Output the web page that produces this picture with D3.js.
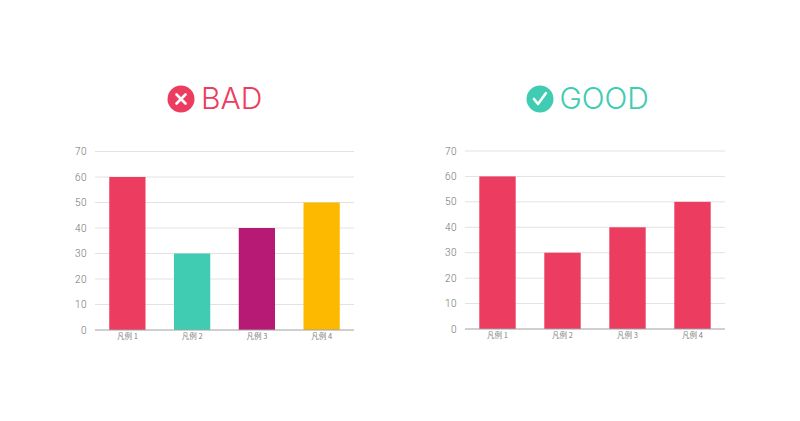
<!DOCTYPE html>
<html>
<head>
<meta charset="utf-8">
<script src="https://cdnjs.cloudflare.com/ajax/libs/d3/7.8.5/d3.min.js"></script>
<style>
    html, body { margin: 0; padding: 0; background: #fff; }
    svg { display: block; }
    text { font-family: "Roboto", sans-serif; }
</style>
</head>
<body>
<script>
"use strict";

var categories = ["凡例 1", "凡例 2", "凡例 3", "凡例 4"];
var values = [60, 30, 40, 50];
var yTicks = [0, 10, 20, 30, 40, 50, 60, 70];
var badColors = ["#ec3d60", "#40ccb2", "#b71a74", "#fdb900"];
var goodColors = ["#ec3d60", "#ec3d60", "#ec3d60", "#ec3d60"];

var red = "#ec3d60";
var teal = "#40ccb2";

var svg = d3.select("body").append("svg")
    .attr("width", 800)
    .attr("height", 421);

var drawChart = function (left, right, top, bottom, colors) {
    var x = d3.scaleBand().domain(categories).range([left, right]).paddingInner(0.44).paddingOuter(0.22);
    var y = d3.scaleLinear().domain([0, 70]).range([bottom, top]);
    var g = svg.append("g");

    g.selectAll(".grid").data(yTicks.slice(1)).enter().append("line")
        .attr("class", "grid")
        .attr("x1", left)
        .attr("x2", right)
        .attr("y1", function (d) { return y(d); })
        .attr("y2", function (d) { return y(d); })
        .attr("stroke", "#e2e2e2")
        .attr("stroke-width", 1);

    g.selectAll(".bar").data(values).enter().append("rect")
        .attr("class", "bar")
        .attr("x", function (d, i) { return x(categories[i]); })
        .attr("y", function (d) { return y(d); })
        .attr("width", x.bandwidth())
        .attr("height", function (d) { return bottom - y(d); })
        .attr("fill", function (d, i) { return colors[i]; });

    g.append("line")
        .attr("x1", left)
        .attr("x2", right)
        .attr("y1", bottom)
        .attr("y2", bottom)
        .attr("stroke", "#a0a0a0")
        .attr("stroke-width", 1);

    g.selectAll(".y-label").data(yTicks).enter().append("text")
        .attr("class", "y-label")
        .attr("x", left - 8)
        .attr("y", function (d) { return y(d) + 3.5; })
        .attr("text-anchor", "end")
        .attr("font-size", 10)
        .attr("letter-spacing", 0.4)
        .attr("font-weight", 300)
        .attr("fill", "#707070")
        .text(function (d) { return d; });

    g.selectAll(".x-label").data(categories).enter().append("text")
        .attr("class", "x-label")
        .attr("x", function (d) { return x(d) + x.bandwidth() / 2; })
        .attr("y", bottom + 8.8)
        .attr("text-anchor", "middle")
        .attr("font-size", 7.5)
        .attr("fill", "#808080")
        .style("font-family", "'Noto Sans CJK SC', sans-serif")
        .text(function (d) { return d; });
};

var drawHeading = function (cx, textX, label, color, iconPath) {
    svg.append("circle")
        .attr("cx", cx)
        .attr("cy", 99)
        .attr("r", 13.5)
        .attr("fill", color);
    svg.append("path")
        .attr("d", iconPath)
        .attr("transform", "translate(" + cx + ",99)")
        .attr("fill", "none")
        .attr("stroke", "#fff")
        .attr("stroke-width", 2.6)
        .attr("stroke-linecap", "round")
        .attr("stroke-linejoin", "round");
    svg.append("text")
        .attr("x", textX)
        .attr("y", 109)
        .attr("font-size", 30)
        .attr("font-weight", 300)
        .style("font-family", "Inter, sans-serif")
        .attr("fill", color)
        .text(label);
};

drawHeading(181, 201, "BAD", red, "M-4.5,-4.5L4.5,4.5M4.5,-4.5L-4.5,4.5");
drawHeading(540, 559.5, "GOOD", teal, "M-6,0L-2,5L6,-6");

drawChart(95, 354, 151.5, 330, badColors);
drawChart(465, 725, 151, 329, goodColors);
</script>
</body>
</html>
